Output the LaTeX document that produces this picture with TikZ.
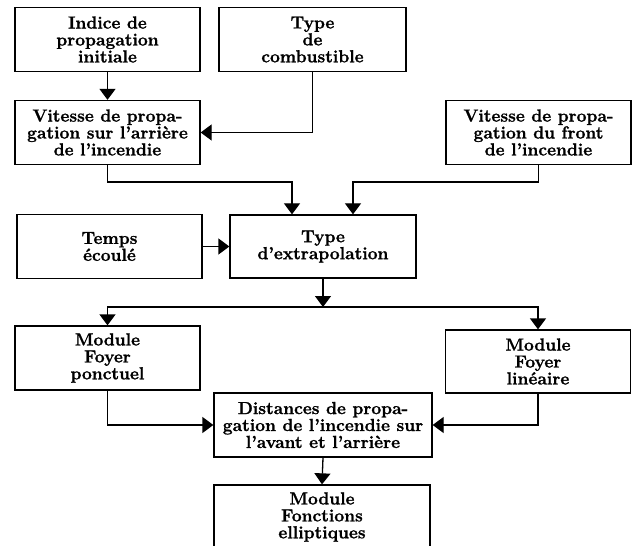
\documentclass[tikz,border=0pt]{standalone}
\usepackage{fontspec}
\setmainfont{Latin Modern Roman}[BoldFeatures={FakeBold=1.2}]
\usetikzlibrary{arrows.meta}
\begin{document}
\begin{tikzpicture}[x=1bp,y=-1bp,
  box/.style={draw,line width=1.3bp,inner sep=0pt,align=center,
    minimum width=185bp,minimum height=64bp,
    font=\bfseries\fontsize{17.5}{17}\selectfont},
  link/.style={line width=1.3bp,-{Triangle[length=11bp,width=16bp]}}]
\useasboundingbox (0,0) rectangle (632,546);
\clip (0,0) rectangle (632,546);
\fill[white] (0,0) rectangle (632,546);

% input boxes
\node[box] (ind) at (107.5,39.5) {Indice de\\propagation\\initiale};
\node[box,minimum width=187bp] (typ) at (312.5,39.5) {Type\\de\\combustible};
\node[box] (arr) at (107.5,132.5) {Vitesse de propa-\\gation sur l’arrière\\de l’incendie};
\node[box] (fro) at (538.5,132.5) {Vitesse de propa-\\gation du front\\de l’incendie};

% extrapolation stage
\node[box] (tmp) at (109.5,246.5) {Temps\\écoulé};
\node[box,minimum width=186bp,minimum height=63bp] (ext) at (323,246.5) {Type\\d’extrapolation};

% modules
\node[box] (pon) at (107.5,358) {Module\\Foyer\\ponctuel};
\node[box,minimum height=63bp] (lin) at (538,361.5) {Module\\Foyer\\linéaire};
\node[box,minimum width=218bp] (dis) at (323,425) {Distances de propa-\\gation de l’incendie sur\\l’avant et l’arrière};
\node[box,minimum width=216bp] (ell) at (322,517) {Module\\Fonctions\\elliptiques};

\coordinate (split) at (323,307);

% connectors
\draw[link] (ind.south) -- (arr.north);
\draw[link] (typ.south) |- (arr.east);
\draw[link] (arr.south) -- ++(0,17) -| ([xshift=-31bp]ext.north);
\draw[link] (fro.south) -- ++(0,17) -| ([xshift=30bp]ext.north);
\draw[link] (tmp.east) -- (ext.west);
\draw[link] (ext.south) -- (split);
\draw[link] (split) -| (pon.north);
\draw[link] (split) -| (lin.north);
\draw[link] (pon.south) |- (dis.west);
\draw[link] (lin.south) |- (dis.east);
\draw[link] (dis.south) -- (ell.north);
\end{tikzpicture}
\end{document}
